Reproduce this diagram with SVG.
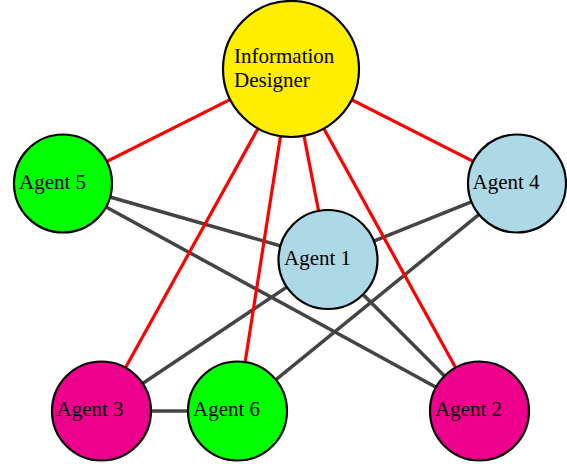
<svg xmlns="http://www.w3.org/2000/svg" width="567" height="464" viewBox="0 0 567 464">
<style>
.n{stroke:#000;stroke-width:2.2}
.t{font-family:"Liberation Serif","Times New Roman",serif;font-size:21px;fill:#000}
.r{stroke:#ff0000;stroke-width:3.2}
.g{stroke:#444;stroke-width:3.5}
</style>
<rect width="567" height="464" fill="#fff"/>
<g id="connectors" fill="none">
<line class="g" x1="63" y1="183.5" x2="328" y2="259.5"/>
<line class="g" x1="63" y1="183.5" x2="479.5" y2="411"/>
<line class="g" x1="517" y1="183.5" x2="328" y2="259.5"/>
<line class="g" x1="517" y1="183.5" x2="237.5" y2="411"/>
<line class="g" x1="328" y1="259.5" x2="101.5" y2="411"/>
<line class="g" x1="328" y1="259.5" x2="479.5" y2="411"/>
<line class="g" x1="101.5" y1="411" x2="237.5" y2="411"/>
<line class="r" x1="291" y1="69" x2="63" y2="183.5"/>
<line class="r" x1="291" y1="69" x2="517" y2="183.5"/>
<line class="r" x1="291" y1="69" x2="328" y2="259.5"/>
<line class="r" x1="291" y1="69" x2="101.5" y2="411"/>
<line class="r" x1="291" y1="69" x2="237.5" y2="411"/>
<line class="r" x1="291" y1="69" x2="479.5" y2="411"/>
</g>
<g id="designer"><circle class="n" cx="291" cy="69" r="68" fill="#ffee00"/><text class="t" x="234" y="63">Information</text><text class="t" x="234" y="87">Designer</text></g>
<g id="agent5"><circle class="n" cx="63" cy="183.5" r="49" fill="#00ff00"/><text class="t" x="19" y="188.5">Agent 5</text></g>
<g id="agent4"><circle class="n" cx="517" cy="183.5" r="49" fill="#add8e6"/><text class="t" x="472.5" y="188.5">Agent 4</text></g>
<g id="agent1"><circle class="n" cx="328" cy="259.5" r="49.5" fill="#add8e6"/><text class="t" x="284" y="264.5">Agent 1</text></g>
<g id="agent3"><circle class="n" cx="101.5" cy="411" r="49.5" fill="#ec008c"/><text class="t" x="56.5" y="416">Agent 3</text></g>
<g id="agent6"><circle class="n" cx="237.5" cy="411" r="49.5" fill="#00ff00"/><text class="t" x="193" y="416">Agent 6</text></g>
<g id="agent2"><circle class="n" cx="479.5" cy="411" r="49.5" fill="#ec008c"/><text class="t" x="435" y="416">Agent 2</text></g>
</svg>
